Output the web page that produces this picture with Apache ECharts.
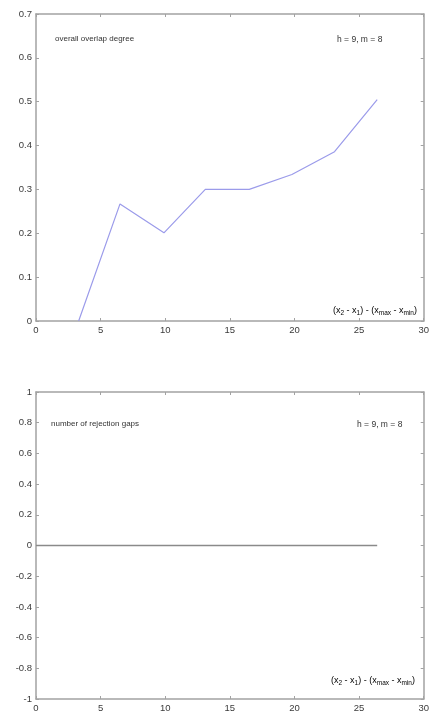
<!DOCTYPE html>
<html><head><meta charset="utf-8">
<script src="https://cdn.jsdelivr.net/npm/echarts@6/dist/echarts.min.js"></script>
<style>html,body{margin:0;padding:0;background:#fff;}#c{width:432px;height:713px;}</style>
</head><body><div id="c"></div>
<script>
const overlapX = [3.3, 6.5, 9.9, 13.1, 16.5, 19.8, 23.1, 26.4];
const overlapY = [0, 0.267, 0.201, 0.300, 0.300, 0.334, 0.386, 0.505];
const gapsX = [0, 3.3, 6.5, 9.9, 13.1, 16.5, 19.8, 23.1, 26.4];
const gapsY = [0, 0, 0, 0, 0, 0, 0, 0, 0];
const xTicks = [0, 5, 10, 15, 20, 25, 30];
const topYTicks = [0, 0.1, 0.2, 0.3, 0.4, 0.5, 0.6, 0.7];
const botYTicks = [-1, -0.8, -0.6, -0.4, -0.2, 0, 0.2, 0.4, 0.6, 0.8, 1];

const chart = echarts.init(document.getElementById('c'), null, {renderer: 'canvas'});
const axisCol = '#a2a2a2';
const labCol = '#3a3a3a';
const font = 'Liberation Sans, Arial, sans-serif';

function mkX(gi, show) {
  return {
    type: 'value', gridIndex: gi, min: 0, max: 30, interval: 5,
    position: show ? 'bottom' : 'top',
    axisLine: {show: true, onZero: false, lineStyle: {color: axisCol, width: 1.5}},
    axisTick: {show: true, inside: true, length: 3, lineStyle: {color: axisCol}},
    axisLabel: {show: show, color: labCol, fontSize: 9.5, fontFamily: font, margin: 4},
    splitLine: {show: false}
  };
}
function mkY(gi, show, min, max, iv) {
  return {
    type: 'value', gridIndex: gi, min: min, max: max, interval: iv,
    position: show ? 'left' : 'right',
    axisLine: {show: true, onZero: false, lineStyle: {color: axisCol, width: 1.5}},
    axisTick: {show: true, inside: true, length: 3, lineStyle: {color: axisCol}},
    axisLabel: {show: show, color: labCol, fontSize: 9.5, fontFamily: font, margin: 4,
      formatter: v => String(Math.round(v * 10) / 10)},
    splitLine: {show: false}
  };
}
const subRich = {
  n: {fontSize: 9, color: '#444', fontFamily: font},
  s: {fontSize: 6.5, color: '#444', fontFamily: font, verticalAlign: 'bottom', padding: [5, 0, 0, 0]}
};
const xlabel = '{n|(x}{s|2}{n| - x}{s|1}{n|) - (x}{s|max}{n| - x}{s|min}{n|)}';
const tf = '8px ' + font;

chart.setOption({
  animation: false,
  grid: [
    {left: 36, top: 14, width: 391, height: 307},
    {left: 36, top: 392, width: 391, height: 308}
  ],
  xAxis: [mkX(0, true), mkX(0, false), mkX(1, true), mkX(1, false)],
  yAxis: [mkY(0, true, 0, 0.7, 0.1), mkY(0, false, 0, 0.7, 0.1),
          mkY(1, true, -1, 1, 0.2), mkY(1, false, -1, 1, 0.2)],
  series: [
    {type: 'line', xAxisIndex: 0, yAxisIndex: 0, data: overlapX.map((x, i) => [x, overlapY[i]]),
     showSymbol: false, lineStyle: {color: '#9b9bea', width: 1.2}, z: 1},
    {type: 'line', xAxisIndex: 2, yAxisIndex: 2, data: gapsX.map((x, i) => [x, gapsY[i]]),
     showSymbol: false, lineStyle: {color: '#8a8a8a', width: 1.6}}
  ],
  graphic: [
    {type: 'text', left: 55, top: 35, style: {text: 'overall overlap degree', font: tf, fill: '#333'}},
    {type: 'text', left: 337, top: 35, style: {text: 'h = 9, m = 8', font: '8.5px ' + font, fill: '#333', letterSpacing: 0.6}},
    {type: 'text', left: 51, top: 420, style: {text: 'number of rejection gaps', font: tf, fill: '#333'}},
    {type: 'text', left: 357, top: 420, style: {text: 'h = 9, m = 8', font: '8.5px ' + font, fill: '#333', letterSpacing: 0.6}},
    {type: 'text', left: 333, top: 306, style: {text: xlabel, rich: subRich}},
    {type: 'text', left: 331, top: 676, style: {text: xlabel, rich: subRich}}
  ]
});
</script></body></html>
